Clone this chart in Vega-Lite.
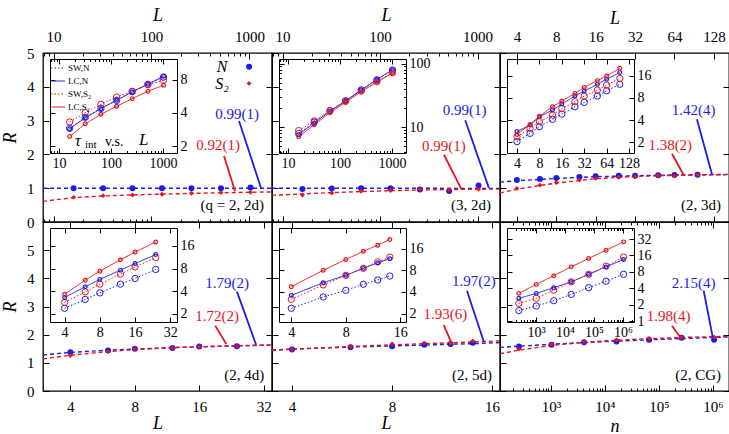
{
"$schema": "https://vega.github.io/schema/vega-lite/v6.json",
"background": "white",
"padding": {"left": 0, "top": 5, "right": 0, "bottom": 0},
"config": {
 "view": {"stroke": "#000", "strokeWidth": 1.3},
 "font": "Liberation Serif, DejaVu Serif, serif",
 "axis": {"grid": false, "domain": false, "tickColor": "#000", "tickWidth": 1, "labelColor": "#000", "labelFont": "Liberation Serif, DejaVu Serif, serif", "labelFontSize": 15, "titleFont": "Liberation Serif, DejaVu Serif, serif", "titleFontSize": 18, "titleFontStyle": "italic", "titleFontWeight": "normal", "titleColor": "#000", "labelFlush": false, "labelOverlap": false, "domainColor": "#000", "domainWidth": 1},
 "axisX": {"labelOverlap": false},
 "axisY": {"labelOverlap": false},
 "text": {"font": "Liberation Serif, DejaVu Serif, serif"},
 "legend": {"labelFont": "Liberation Serif, DejaVu Serif, serif"}
},
"datasets": {
 "pts1": [{"s":"N","L":16,"R":1.0},{"s":"N","L":32,"R":1.0},{"s":"N","L":64,"R":1.0},{"s":"N","L":128,"R":1.0},{"s":"N","L":256,"R":1.0},{"s":"N","L":512,"R":1.0},{"s":"N","L":1024,"R":1.02},
  {"s":"S₂","L":16,"R":0.73},{"s":"S₂","L":32,"R":0.78},{"s":"S₂","L":64,"R":0.8},{"s":"S₂","L":128,"R":0.82},{"s":"S₂","L":256,"R":0.85},{"s":"S₂","L":512,"R":0.87},{"s":"S₂","L":1024,"R":0.88}],
 "fit1": [{"s":"N","L":7.8,"R":1.0},{"s":"N","L":1700,"R":1.0},
  {"s":"S₂","L":7.8,"R":0.61},{"s":"S₂","L":10,"R":0.65},{"s":"S₂","L":16,"R":0.72},{"s":"S₂","L":32,"R":0.77},{"s":"S₂","L":64,"R":0.8},{"s":"S₂","L":128,"R":0.825},{"s":"S₂","L":256,"R":0.845},{"s":"S₂","L":512,"R":0.865},{"s":"S₂","L":1024,"R":0.88},{"s":"S₂","L":1700,"R":0.89}],
 "tau1": [{"s":"SW,N","L":16,"t":2.9},{"s":"SW,N","L":32,"t":3.65},{"s":"SW,N","L":64,"t":4.4},{"s":"SW,N","L":128,"t":5.2},{"s":"SW,N","L":256,"t":6.25},{"s":"SW,N","L":512,"t":7.3},{"s":"SW,N","L":1024,"t":8.5},
  {"s":"LC,N","L":16,"t":2.87},{"s":"LC,N","L":32,"t":3.62},{"s":"LC,N","L":64,"t":4.38},{"s":"LC,N","L":128,"t":5.22},{"s":"LC,N","L":256,"t":6.22},{"s":"LC,N","L":512,"t":7.31},{"s":"LC,N","L":1024,"t":8.65},
  {"s":"SW,S₂","L":16,"t":3.31},{"s":"SW,S₂","L":32,"t":4.03},{"s":"SW,S₂","L":64,"t":4.8},{"s":"SW,S₂","L":128,"t":5.6},{"s":"SW,S₂","L":256,"t":6.31},{"s":"SW,S₂","L":512,"t":7.25},{"s":"SW,S₂","L":1024,"t":7.96},
  {"s":"LC,S₂","L":16,"t":2.45},{"s":"LC,S₂","L":32,"t":3.19},{"s":"LC,S₂","L":64,"t":3.89},{"s":"LC,S₂","L":128,"t":4.6},{"s":"LC,S₂","L":256,"t":5.4},{"s":"LC,S₂","L":512,"t":6.31},{"s":"LC,S₂","L":1024,"t":7.16}],
 "pts2": [{"s":"N","L":16,"R":0.98},{"s":"N","L":32,"R":0.99},{"s":"N","L":64,"R":1.0},{"s":"N","L":128,"R":1.0},{"s":"N","L":256,"R":0.96},{"s":"N","L":512,"R":0.92},{"s":"N","L":1024,"R":1.08},
  {"s":"S₂","L":16,"R":0.8},{"s":"S₂","L":32,"R":0.86},{"s":"S₂","L":64,"R":0.91},{"s":"S₂","L":128,"R":0.93},{"s":"S₂","L":256,"R":0.96},{"s":"S₂","L":512,"R":0.96},{"s":"S₂","L":1024,"R":0.97}],
 "fit2": [{"s":"N","L":7.8,"R":1.0},{"s":"N","L":1700,"R":0.995},
  {"s":"S₂","L":7.8,"R":0.79},{"s":"S₂","L":16,"R":0.83},{"s":"S₂","L":32,"R":0.87},{"s":"S₂","L":64,"R":0.9},{"s":"S₂","L":128,"R":0.925},{"s":"S₂","L":256,"R":0.945},{"s":"S₂","L":512,"R":0.96},{"s":"S₂","L":1024,"R":0.97},{"s":"S₂","L":1700,"R":0.975}],
 "tau2": [{"s":"SW,N","L":16,"t":7.9},{"s":"SW,N","L":32,"t":11.9},{"s":"SW,N","L":64,"t":18},{"s":"SW,N","L":128,"t":26},{"s":"SW,N","L":256,"t":38.5},{"s":"SW,N","L":512,"t":55.5},{"s":"SW,N","L":1024,"t":79},
  {"s":"LC,N","L":16,"t":7.6},{"s":"LC,N","L":32,"t":11.6},{"s":"LC,N","L":64,"t":17.8},{"s":"LC,N","L":128,"t":25.8},{"s":"LC,N","L":256,"t":38.5},{"s":"LC,N","L":512,"t":56},{"s":"LC,N","L":1024,"t":80},
  {"s":"SW,S₂","L":16,"t":8.8},{"s":"SW,S₂","L":32,"t":12.5},{"s":"SW,S₂","L":64,"t":18.2},{"s":"SW,S₂","L":128,"t":25.5},{"s":"SW,S₂","L":256,"t":37},{"s":"SW,S₂","L":512,"t":52},{"s":"SW,S₂","L":1024,"t":72},
  {"s":"LC,S₂","L":16,"t":7},{"s":"LC,S₂","L":32,"t":10.9},{"s":"LC,S₂","L":64,"t":16.8},{"s":"LC,S₂","L":128,"t":24.5},{"s":"LC,S₂","L":256,"t":36},{"s":"LC,S₂","L":512,"t":51},{"s":"LC,S₂","L":1024,"t":71}],
 "pts3": [{"s":"N","L":4,"R":1.24},{"s":"N","L":6,"R":1.27},{"s":"N","L":8,"R":1.3},{"s":"N","L":12,"R":1.33},{"s":"N","L":16,"R":1.35},{"s":"N","L":24,"R":1.37},{"s":"N","L":32,"R":1.37},{"s":"N","L":48,"R":1.38},{"s":"N","L":64,"R":1.39},{"s":"N","L":96,"R":1.4},
  {"s":"S₂","L":4,"R":0.99},{"s":"S₂","L":6,"R":1.09},{"s":"S₂","L":8,"R":1.17},{"s":"S₂","L":12,"R":1.24},{"s":"S₂","L":16,"R":1.29},{"s":"S₂","L":24,"R":1.32},{"s":"S₂","L":32,"R":1.34},{"s":"S₂","L":48,"R":1.37},{"s":"S₂","L":64,"R":1.37},{"s":"S₂","L":96,"R":1.39}],
 "fit3": [{"s":"N","L":2.97,"R":1.18},{"s":"N","L":4,"R":1.22},{"s":"N","L":8,"R":1.29},{"s":"N","L":16,"R":1.34},{"s":"N","L":32,"R":1.37},{"s":"N","L":64,"R":1.39},{"s":"N","L":167,"R":1.41},
  {"s":"S₂","L":2.97,"R":0.86},{"s":"S₂","L":4,"R":0.97},{"s":"S₂","L":6,"R":1.08},{"s":"S₂","L":8,"R":1.15},{"s":"S₂","L":12,"R":1.23},{"s":"S₂","L":16,"R":1.28},{"s":"S₂","L":24,"R":1.32},{"s":"S₂","L":32,"R":1.35},{"s":"S₂","L":64,"R":1.38},{"s":"S₂","L":167,"R":1.4}],
 "tau3": [{"s":"SW,N","L":4,"t":2.04},{"s":"SW,N","L":6,"t":2.64},{"s":"SW,N","L":8,"t":3.25},{"s":"SW,N","L":12,"t":4.09},{"s":"SW,N","L":16,"t":4.82},{"s":"SW,N","L":24,"t":6.06},{"s":"SW,N","L":32,"t":6.94},{"s":"SW,N","L":48,"t":8.46},{"s":"SW,N","L":64,"t":10},{"s":"SW,N","L":96,"t":12.2},
  {"s":"LC,N","L":4,"t":2.8},{"s":"LC,N","L":6,"t":3.42},{"s":"LC,N","L":8,"t":4.44},{"s":"LC,N","L":12,"t":5.46},{"s":"LC,N","L":16,"t":6.6},{"s":"LC,N","L":24,"t":8.46},{"s":"LC,N","L":32,"t":9.9},{"s":"LC,N","L":48,"t":12.2},{"s":"LC,N","L":64,"t":14.3},{"s":"LC,N","L":96,"t":17.6},
  {"s":"SW,S₂","L":4,"t":2.37},{"s":"SW,S₂","L":6,"t":3.09},{"s":"SW,S₂","L":8,"t":3.8},{"s":"SW,S₂","L":12,"t":4.67},{"s":"SW,S₂","L":16,"t":5.72},{"s":"SW,S₂","L":24,"t":7.1},{"s":"SW,S₂","L":32,"t":8.46},{"s":"SW,S₂","L":48,"t":10.2},{"s":"SW,S₂","L":64,"t":11.9},{"s":"SW,S₂","L":96,"t":14.7},
  {"s":"LC,S₂","L":4,"t":2.55},{"s":"LC,S₂","L":6,"t":3.49},{"s":"LC,S₂","L":8,"t":4.5},{"s":"LC,S₂","L":12,"t":6.06},{"s":"LC,S₂","L":16,"t":7.23},{"s":"LC,S₂","L":24,"t":9.2},{"s":"LC,S₂","L":32,"t":11.1},{"s":"LC,S₂","L":48,"t":13.7},{"s":"LC,S₂","L":64,"t":15.8},{"s":"LC,S₂","L":96,"t":20.1}],
 "pts4": [{"s":"N","L":4,"R":1.38},{"s":"N","L":6,"R":1.44},{"s":"N","L":8,"R":1.5},{"s":"N","L":12,"R":1.53},{"s":"N","L":16,"R":1.58},{"s":"N","L":24,"R":1.59},
  {"s":"S₂","L":4,"R":1.26},{"s":"S₂","L":6,"R":1.4},{"s":"S₂","L":8,"R":1.5},{"s":"S₂","L":12,"R":1.53},{"s":"S₂","L":16,"R":1.58},{"s":"S₂","L":24,"R":1.59}],
 "fit4": [{"s":"N","L":2.98,"R":1.28},{"s":"N","L":4,"R":1.37},{"s":"N","L":6,"R":1.45},{"s":"N","L":8,"R":1.49},{"s":"N","L":12,"R":1.54},{"s":"N","L":16,"R":1.57},{"s":"N","L":24,"R":1.6},{"s":"N","L":35,"R":1.63},
  {"s":"S₂","L":2.98,"R":1.14},{"s":"S₂","L":4,"R":1.27},{"s":"S₂","L":6,"R":1.4},{"s":"S₂","L":8,"R":1.47},{"s":"S₂","L":12,"R":1.54},{"s":"S₂","L":16,"R":1.57},{"s":"S₂","L":24,"R":1.61},{"s":"S₂","L":35,"R":1.64}],
 "tau4": [{"s":"SW,N","L":4,"t":2.36},{"s":"SW,N","L":6,"t":3.1},{"s":"SW,N","L":8,"t":3.79},{"s":"SW,N","L":12,"t":4.96},{"s":"SW,N","L":16,"t":5.9},{"s":"SW,N","L":24,"t":7.78},
  {"s":"LC,N","L":4,"t":3.29},{"s":"LC,N","L":6,"t":4.57},{"s":"LC,N","L":8,"t":5.74},{"s":"LC,N","L":12,"t":7.62},{"s":"LC,N","L":16,"t":9.34},{"s":"LC,N","L":24,"t":12.3},
  {"s":"SW,S₂","L":4,"t":2.83},{"s":"SW,S₂","L":6,"t":3.91},{"s":"SW,S₂","L":8,"t":4.96},{"s":"SW,S₂","L":12,"t":6.74},{"s":"SW,S₂","L":16,"t":8.42},{"s":"SW,S₂","L":24,"t":11.2},
  {"s":"LC,S₂","L":4,"t":3.64},{"s":"LC,S₂","L":6,"t":5.6},{"s":"LC,S₂","L":8,"t":7.37},{"s":"LC,S₂","L":12,"t":10.5},{"s":"LC,S₂","L":16,"t":13.3},{"s":"LC,S₂","L":24,"t":18.1}],
 "pts5": [{"s":"N","L":4,"R":1.47},{"s":"N","L":6,"R":1.55},{"s":"N","L":8,"R":1.59},{"s":"N","L":10,"R":1.64},{"s":"N","L":12,"R":1.67},{"s":"N","L":14,"R":1.71},
  {"s":"S₂","L":4,"R":1.47},{"s":"S₂","L":6,"R":1.58},{"s":"S₂","L":8,"R":1.67},{"s":"S₂","L":10,"R":1.7},{"s":"S₂","L":12,"R":1.7},{"s":"S₂","L":14,"R":1.77}],
 "fit5": [{"s":"N","L":3.48,"R":1.46},{"s":"N","L":4,"R":1.49},{"s":"N","L":6,"R":1.56},{"s":"N","L":8,"R":1.6},{"s":"N","L":10,"R":1.63},{"s":"N","L":12,"R":1.66},{"s":"N","L":14,"R":1.68},{"s":"N","L":16.9,"R":1.72},
  {"s":"S₂","L":3.48,"R":1.44},{"s":"S₂","L":4,"R":1.48},{"s":"S₂","L":6,"R":1.58},{"s":"S₂","L":8,"R":1.64},{"s":"S₂","L":10,"R":1.68},{"s":"S₂","L":12,"R":1.71},{"s":"S₂","L":14,"R":1.74},{"s":"S₂","L":16.9,"R":1.78}],
 "tau5": [{"s":"SW,N","L":4,"t":2.37},{"s":"SW,N","L":6,"t":3.41},{"s":"SW,N","L":8,"t":4.22},{"s":"SW,N","L":10,"t":5.12},{"s":"SW,N","L":12,"t":5.87},{"s":"SW,N","L":14,"t":6.66},
  {"s":"LC,N","L":4,"t":3.59},{"s":"LC,N","L":6,"t":5.38},{"s":"LC,N","L":8,"t":6.82},{"s":"LC,N","L":10,"t":8.52},{"s":"LC,N","L":12,"t":10.2},{"s":"LC,N","L":14,"t":11.6},
  {"s":"SW,S₂","L":4,"t":3.16},{"s":"SW,S₂","L":6,"t":5.01},{"s":"SW,S₂","L":8,"t":6.82},{"s":"SW,S₂","L":10,"t":8.52},{"s":"SW,S₂","L":12,"t":10.5},{"s":"SW,S₂","L":14,"t":12.2},
  {"s":"LC,S₂","L":4,"t":4.74},{"s":"LC,S₂","L":6,"t":8},{"s":"LC,S₂","L":8,"t":11.3},{"s":"LC,S₂","L":10,"t":14.7},{"s":"LC,S₂","L":12,"t":17.9},{"s":"LC,S₂","L":14,"t":21.5}],
 "pts6": [{"s":"N","n":256,"R":1.58},{"s":"N","n":1024,"R":1.64},{"s":"N","n":4096,"R":1.73},{"s":"N","n":16384,"R":1.76},{"s":"N","n":65536,"R":1.82},{"s":"N","n":262144,"R":1.89},{"s":"N","n":1048576,"R":1.82},
  {"s":"S₂","n":256,"R":1.49},{"s":"S₂","n":1024,"R":1.65},{"s":"S₂","n":4096,"R":1.75},{"s":"S₂","n":16384,"R":1.81},{"s":"S₂","n":65536,"R":1.87},{"s":"S₂","n":262144,"R":1.9},{"s":"S₂","n":1048576,"R":1.92}],
 "fit6": [{"s":"N","n":114,"R":1.55},{"s":"N","n":256,"R":1.59},{"s":"N","n":1024,"R":1.66},{"s":"N","n":4096,"R":1.72},{"s":"N","n":16384,"R":1.77},{"s":"N","n":65536,"R":1.82},{"s":"N","n":262144,"R":1.86},{"s":"N","n":1048576,"R":1.9},{"s":"N","n":1980000,"R":1.92},
  {"s":"S₂","n":114,"R":1.32},{"s":"S₂","n":256,"R":1.45},{"s":"S₂","n":1024,"R":1.62},{"s":"S₂","n":4096,"R":1.73},{"s":"S₂","n":16384,"R":1.8},{"s":"S₂","n":65536,"R":1.86},{"s":"S₂","n":262144,"R":1.9},{"s":"S₂","n":1048576,"R":1.93},{"s":"S₂","n":1980000,"R":1.94}],
 "tau6": [{"s":"SW,N","n":256,"t":1.57},{"s":"SW,N","n":1024,"t":1.9},{"s":"SW,N","n":4096,"t":2.38},{"s":"SW,N","n":16384,"t":3.1},{"s":"SW,N","n":65536,"t":4.12},{"s":"SW,N","n":262144,"t":5.41},{"s":"SW,N","n":1048576,"t":7.23},
  {"s":"LC,N","n":256,"t":2.63},{"s":"LC,N","n":1024,"t":3.24},{"s":"LC,N","n":4096,"t":4.12},{"s":"LC,N","n":16384,"t":5.27},{"s":"LC,N","n":65536,"t":7.23},{"s":"LC,N","n":262144,"t":9.9},{"s":"LC,N","n":1048576,"t":13.5},
  {"s":"SW,S₂","n":256,"t":2.13},{"s":"SW,S₂","n":1024,"t":2.63},{"s":"SW,S₂","n":4096,"t":3.72},{"s":"SW,S₂","n":16384,"t":5.27},{"s":"SW,S₂","n":65536,"t":7.23},{"s":"SW,S₂","n":262144,"t":10.2},{"s":"SW,S₂","n":1048576,"t":15},
  {"s":"LC,S₂","n":256,"t":3.24},{"s":"LC,S₂","n":1024,"t":4.73},{"s":"LC,S₂","n":4096,"t":6.83},{"s":"LC,S₂","n":16384,"t":9.9},{"s":"LC,S₂","n":65536,"t":14.1},{"s":"LC,S₂","n":262144,"t":20},{"s":"LC,S₂","n":1048576,"t":28.4}]
},
"columns": 3,
"spacing": 0,
"bounds": "flush",
"concat": [
{
 "width": 229, "height": 169,
 "resolve": {"scale": {"x": "independent", "y": "independent", "color": "independent", "strokeDash": "independent"}, "axis": {"x": "independent", "y": "independent"}},
 "layer": [
  {"layer": [
   {"data": {"name": "fit1"}, "mark": {"type": "line", "strokeWidth": 1.4, "strokeDash": [4, 3]},
    "encoding": {
     "x": {"field": "L", "type": "quantitative", "scale": {"type": "log", "domain": [7.8, 1700], "nice": false},
       "axis": {"orient": "bottom", "values": [8,9,10,20,30,40,50,60,70,80,90,100,200,300,400,500,600,700,800,900,1000], "labels": false, "title": null, "tickSize": {"condition": {"test": "datum.value == 10 || datum.value == 100 || datum.value == 1000", "value": -6}, "value": -3}}},
     "y": {"field": "R", "type": "quantitative", "scale": {"domain": [0, 5], "nice": false, "zero": false},
       "axis": {"orient": "right", "values": [0,1,2,3,4,5], "labels": false, "title": null, "tickSize": -6}},
     "color": {"field": "s", "type": "nominal", "scale": {"domain": ["N", "S₂"], "range": ["#1c1ce6", "#e8141c"]}, "legend": null}}},
   {"data": {"name": "pts1"}, "transform": [{"filter": "datum.s == 'N'"}], "mark": {"type": "circle", "size": 36, "color": "#1c1ce6", "opacity": 1},
    "encoding": {"x": {"field": "L", "type": "quantitative"}, "y": {"field": "R", "type": "quantitative"}}},
   {"data": {"name": "pts1"}, "transform": [{"filter": "datum.s != 'N'"}], "mark": {"type": "point", "shape": "diamond", "filled": true, "size": 24, "color": "#e8141c", "opacity": 1},
    "encoding": {"x": {"field": "L", "type": "quantitative"}, "y": {"field": "R", "type": "quantitative"}}},
   {"data": {"values": [{}]}, "mark": {"type": "rule", "color": "#1c1ce6", "strokeWidth": 1.8}, "encoding": {"x": {"datum": 783}, "y": {"datum": 2.99}, "x2": {"datum": 1315}, "y2": {"datum": 1.0}}},
   {"data": {"values": [{}]}, "mark": {"type": "rule", "color": "#e8141c", "strokeWidth": 1.8}, "encoding": {"x": {"datum": 550}, "y": {"datum": 1.95}, "x2": {"datum": 713}, "y2": {"datum": 0.91}}},
   {"data": {"values": [{}]}, "mark": {"type": "text", "color": "#1c1ce6", "fontSize": 15, "text": "0.99(1)"}, "encoding": {"x": {"datum": 748}, "y": {"datum": 3.2}}},
   {"data": {"values": [{}]}, "mark": {"type": "text", "color": "#e8141c", "fontSize": 15, "text": "0.92(1)"}, "encoding": {"x": {"datum": 478}, "y": {"datum": 2.28}}},
   {"data": {"values": [{}]}, "mark": {"type": "text", "color": "#000", "fontSize": 15, "align": "right", "text": "(q = 2, 2d)"}, "encoding": {"x": {"datum": 1410}, "y": {"datum": 0.5}}},
   {"data": {"values": [{}]}, "mark": {"type": "text", "color": "#000", "fontSize": 16, "fontStyle": "italic", "text": "N"}, "encoding": {"x": {"datum": 525}, "y": {"datum": 4.59}}},
   {"data": {"values": [{}]}, "mark": {"type": "text", "color": "#000", "fontSize": 16, "fontStyle": "italic", "text": "S₂"}, "encoding": {"x": {"datum": 525}, "y": {"datum": 4.09}}},
   {"data": {"values": [{}]}, "mark": {"type": "circle", "size": 36, "color": "#1c1ce6", "opacity": 1}, "encoding": {"x": {"datum": 991}, "y": {"datum": 4.59}}},
   {"data": {"values": [{}]}, "mark": {"type": "point", "shape": "diamond", "filled": true, "size": 24, "color": "#e8141c", "opacity": 1}, "encoding": {"x": {"datum": 991}, "y": {"datum": 4.1}}},
   {"data": {"values": [{}]}, "mark": {"type": "text", "color": "#000", "fontSize": 16, "fontStyle": "italic", "align": "left", "text": "τ"}, "encoding": {"x": {"datum": 16.6}, "y": {"datum": 2.39}}},
   {"data": {"values": [{}]}, "mark": {"type": "text", "color": "#000", "fontSize": 11, "align": "left", "text": "int"}, "encoding": {"x": {"datum": 20.9}, "y": {"datum": 2.28}}},
   {"data": {"values": [{}]}, "mark": {"type": "text", "color": "#000", "fontSize": 14, "align": "left", "text": "v.s."}, "encoding": {"x": {"datum": 33.5}, "y": {"datum": 2.38}}},
   {"data": {"values": [{}]}, "mark": {"type": "text", "color": "#000", "fontSize": 17, "fontStyle": "italic", "align": "left", "text": "L"}, "encoding": {"x": {"datum": 74.6}, "y": {"datum": 2.44}}}
  ]},
  {"data": {"name": "pts1"}, "mark": {"type": "point", "opacity": 0},
   "encoding": {
    "x": {"field": "L", "type": "quantitative", "scale": {"type": "log", "domain": [7.8, 1700], "nice": false},
      "axis": {"orient": "top", "values": [8,9,10,20,30,40,50,60,70,80,90,100,200,300,400,500,600,700,800,900,1000], "format": "d", "labelExpr": "(datum.value == 10 || datum.value == 100 || datum.value == 1000) ? datum.label : ''", "labelPadding": 15, "labelOverlap": false, "title": "L", "titlePadding": 2, "tickSize": {"condition": {"test": "datum.value == 10 || datum.value == 100 || datum.value == 1000", "value": -6}, "value": -3}}},
    "y": {"field": "R", "type": "quantitative", "scale": {"domain": [0, 5], "nice": false, "zero": false},
      "axis": {"orient": "left", "values": [0,1,2,3,4,5], "format": "d", "title": "R", "labelPadding": 15, "labelOverlap": false, "tickSize": -6, "titlePadding": 7}}}},
  {"data": {"name": "tau1"},
   "encoding": {
    "x": {"field": "L", "type": "quantitative", "scale": {"type": "log", "domain": [6.7, 1860], "range": [7, 134], "nice": false},
      "axis": {"orient": "bottom", "offset": -69, "values": [7,8,9,10,20,30,40,50,60,70,80,90,100,200,300,400,500,600,700,800,900,1000], "format": "d", "labelExpr": "(datum.value == 10 || datum.value == 100 || datum.value == 1000) ? datum.label : ''", "labelPadding": 8, "labelFontSize": 14, "labelOverlap": false, "domain": true, "title": null, "tickSize": {"condition": {"test": "datum.value == 10 || datum.value == 100 || datum.value == 1000", "value": -5}, "value": -2.5}}},
    "y": {"field": "t", "type": "quantitative", "scale": {"type": "log", "base": 2, "domain": [1.73, 12.4], "range": [100, 6], "nice": false},
      "axis": {"orient": "right", "offset": -95, "values": [2,4,8], "format": "d", "labelPadding": 8, "labelFontSize": 14, "labelOverlap": false, "domain": true, "title": null, "tickSize": -5}},
    "color": {"field": "s", "type": "nominal", "scale": {"domain": ["SW,N","LC,N","SW,S₂","LC,S₂"], "range": ["#1c1ce6","#1c1ce6","#e8141c","#e8141c"]},
      "legend": {"orient": "none", "legendX": 7, "legendY": 7, "title": null, "symbolType": "stroke", "symbolSize": 200, "symbolStrokeWidth": 1, "labelFontSize": 9, "labelOffset": 2, "rowPadding": 0, "padding": 0, "labelColor": "#000"}}},
   "layer": [
    {"mark": {"type": "line", "strokeWidth": 1},
     "encoding": {"strokeDash": {"field": "s", "type": "nominal", "scale": {"domain": ["SW,N","LC,N","SW,S₂","LC,S₂"], "range": [[1.5,2],[1,0],[1.5,2],[1,0]]},
      "legend": {"orient": "none", "legendX": 7, "legendY": 7, "title": null, "symbolType": "stroke", "symbolSize": 200, "symbolStrokeWidth": 1, "labelFontSize": 9, "labelOffset": 2, "rowPadding": 0, "padding": 0, "labelColor": "#000"}}}},
    {"transform": [{"filter": "indexof(datum.s, 'SW') == 0"}], "mark": {"type": "point", "size": 40, "strokeWidth": 1, "opacity": 1}},
    {"transform": [{"filter": "indexof(datum.s, 'LC') == 0"}], "mark": {"type": "point", "size": 14, "strokeWidth": 1.2, "opacity": 1}}
   ]},
  {"data": {"name": "tau1"}, "mark": {"type": "point", "opacity": 0},
   "encoding": {
    "x": {"field": "L", "type": "quantitative", "scale": {"type": "log", "domain": [6.7, 1860], "range": [7, 134], "nice": false},
      "axis": {"orient": "top", "offset": -6, "values": [7,8,9,10,20,30,40,50,60,70,80,90,100,200,300,400,500,600,700,800,900,1000], "labels": false, "domain": true, "title": null, "tickSize": {"condition": {"test": "datum.value == 10 || datum.value == 100 || datum.value == 1000", "value": -5}, "value": -2.5}}},
    "y": {"field": "t", "type": "quantitative", "scale": {"type": "log", "base": 2, "domain": [1.73, 12.4], "range": [100, 6], "nice": false},
      "axis": {"orient": "left", "offset": -7, "values": [2,4,8], "labels": false, "domain": true, "title": null, "tickSize": -5}}}}
 ]
},
{
 "width": 228, "height": 169,
 "resolve": {"scale": {"x": "independent", "y": "independent", "color": "independent", "strokeDash": "independent"}, "axis": {"x": "independent", "y": "independent"}},
 "layer": [
  {"layer": [
   {"data": {"name": "fit2"}, "mark": {"type": "line", "strokeWidth": 1.4, "strokeDash": [4, 3]},
    "encoding": {
     "x": {"field": "L", "type": "quantitative", "scale": {"type": "log", "domain": [7.8, 1700], "nice": false},
       "axis": {"orient": "bottom", "values": [8,9,10,20,30,40,50,60,70,80,90,100,200,300,400,500,600,700,800,900,1000], "labels": false, "title": null, "tickSize": {"condition": {"test": "datum.value == 10 || datum.value == 100 || datum.value == 1000", "value": -6}, "value": -3}}},
     "y": {"field": "R", "type": "quantitative", "scale": {"domain": [0, 5], "nice": false, "zero": false},
       "axis": {"orient": "right", "values": [0,1,2,3,4,5], "labels": false, "title": null, "tickSize": -6}},
     "color": {"field": "s", "type": "nominal", "scale": {"domain": ["N", "S₂"], "range": ["#1c1ce6", "#e8141c"]}, "legend": null}}},
   {"data": {"name": "pts2"}, "transform": [{"filter": "datum.s == 'N'"}], "mark": {"type": "circle", "size": 36, "color": "#1c1ce6", "opacity": 1},
    "encoding": {"x": {"field": "L", "type": "quantitative"}, "y": {"field": "R", "type": "quantitative"}}},
   {"data": {"name": "pts2"}, "transform": [{"filter": "datum.s != 'N'"}], "mark": {"type": "point", "shape": "diamond", "filled": true, "size": 24, "color": "#e8141c", "opacity": 1},
    "encoding": {"x": {"field": "L", "type": "quantitative"}, "y": {"field": "R", "type": "quantitative"}}},
   {"data": {"values": [{}]}, "mark": {"type": "rule", "color": "#1c1ce6", "strokeWidth": 1.8}, "encoding": {"x": {"datum": 748}, "y": {"datum": 3.01}, "x2": {"datum": 1306}, "y2": {"datum": 1.01}}},
   {"data": {"values": [{}]}, "mark": {"type": "rule", "color": "#e8141c", "strokeWidth": 1.8}, "encoding": {"x": {"datum": 453}, "y": {"datum": 1.99}, "x2": {"datum": 681}, "y2": {"datum": 0.98}}},
   {"data": {"values": [{}]}, "mark": {"type": "text", "color": "#1c1ce6", "fontSize": 15, "text": "0.99(1)"}, "encoding": {"x": {"datum": 736}, "y": {"datum": 3.31}}},
   {"data": {"values": [{}]}, "mark": {"type": "text", "color": "#e8141c", "fontSize": 15, "text": "0.99(1)"}, "encoding": {"x": {"datum": 453}, "y": {"datum": 2.25}}},
   {"data": {"values": [{}]}, "mark": {"type": "text", "color": "#000", "fontSize": 15, "align": "right", "text": "(3, 2d)"}, "encoding": {"x": {"datum": 1378}, "y": {"datum": 0.5}}}
  ]},
  {"data": {"name": "pts2"}, "mark": {"type": "point", "opacity": 0},
   "encoding": {
    "x": {"field": "L", "type": "quantitative", "scale": {"type": "log", "domain": [7.8, 1700], "nice": false},
      "axis": {"orient": "top", "values": [8,9,10,20,30,40,50,60,70,80,90,100,200,300,400,500,600,700,800,900,1000], "format": "d", "labelExpr": "(datum.value == 10 || datum.value == 100 || datum.value == 1000) ? datum.label : ''", "labelPadding": 15, "labelOverlap": false, "title": "L", "titlePadding": 2, "tickSize": {"condition": {"test": "datum.value == 10 || datum.value == 100 || datum.value == 1000", "value": -6}, "value": -3}}},
    "y": {"field": "R", "type": "quantitative", "scale": {"domain": [0, 5], "nice": false, "zero": false},
      "axis": {"orient": "left", "values": [0,1,2,3,4,5], "labels": false, "tickSize": -6, "title": null}}}},
  {"data": {"name": "tau2"},
   "encoding": {
    "x": {"field": "L", "type": "quantitative", "scale": {"type": "log", "domain": [6.7, 1860], "range": [7, 134], "nice": false},
      "axis": {"orient": "bottom", "offset": -69, "values": [7,8,9,10,20,30,40,50,60,70,80,90,100,200,300,400,500,600,700,800,900,1000], "format": "d", "labelExpr": "(datum.value == 10 || datum.value == 100 || datum.value == 1000) ? datum.label : ''", "labelPadding": 8, "labelFontSize": 14, "labelOverlap": false, "domain": true, "title": null, "tickSize": {"condition": {"test": "datum.value == 10 || datum.value == 100 || datum.value == 1000", "value": -5}, "value": -2.5}}},
    "y": {"field": "t", "type": "quantitative", "scale": {"type": "log", "domain": [3.9, 118], "range": [100, 6], "nice": false},
      "axis": {"orient": "right", "offset": -94, "values": [4,5,6,7,8,9,10,20,30,40,50,60,70,80,90,100], "format": "d", "labelExpr": "(datum.value == 10 || datum.value == 100) ? datum.label : ''", "labelPadding": 8, "labelFontSize": 14, "labelOverlap": false, "domain": true, "title": null, "tickSize": {"condition": {"test": "datum.value == 10 || datum.value == 100", "value": -5}, "value": -2.5}}},
    "color": {"field": "s", "type": "nominal", "scale": {"domain": ["SW,N","LC,N","SW,S₂","LC,S₂"], "range": ["#1c1ce6","#1c1ce6","#e8141c","#e8141c"]}, "legend": null}},
   "layer": [
    {"mark": {"type": "line", "strokeWidth": 1},
     "encoding": {"strokeDash": {"field": "s", "type": "nominal", "scale": {"domain": ["SW,N","LC,N","SW,S₂","LC,S₂"], "range": [[1.5,2],[1,0],[1.5,2],[1,0]]}, "legend": null}}},
    {"transform": [{"filter": "indexof(datum.s, 'SW') == 0"}], "mark": {"type": "point", "size": 40, "strokeWidth": 1, "opacity": 1}},
    {"transform": [{"filter": "indexof(datum.s, 'LC') == 0"}], "mark": {"type": "point", "size": 14, "strokeWidth": 1.2, "opacity": 1}}
   ]},
  {"data": {"name": "tau2"}, "mark": {"type": "point", "opacity": 0},
   "encoding": {
    "x": {"field": "L", "type": "quantitative", "scale": {"type": "log", "domain": [6.7, 1860], "range": [7, 134], "nice": false},
      "axis": {"orient": "top", "offset": -6, "values": [7,8,9,10,20,30,40,50,60,70,80,90,100,200,300,400,500,600,700,800,900,1000], "labels": false, "domain": true, "title": null, "tickSize": {"condition": {"test": "datum.value == 10 || datum.value == 100 || datum.value == 1000", "value": -5}, "value": -2.5}}},
    "y": {"field": "t", "type": "quantitative", "scale": {"type": "log", "domain": [3.9, 118], "range": [100, 6], "nice": false},
      "axis": {"orient": "left", "offset": -7, "values": [4,5,6,7,8,9,10,20,30,40,50,60,70,80,90,100], "labels": false, "domain": true, "title": null, "tickSize": {"condition": {"test": "datum.value == 10 || datum.value == 100", "value": -5}, "value": -2.5}}}}}
 ]
},
{
 "width": 229, "height": 169,
 "resolve": {"scale": {"x": "independent", "y": "independent", "color": "independent", "strokeDash": "independent"}, "axis": {"x": "independent", "y": "independent"}},
 "layer": [
  {"layer": [
   {"data": {"name": "fit3"}, "mark": {"type": "line", "strokeWidth": 1.4, "strokeDash": [4, 3]},
    "encoding": {
     "x": {"field": "L", "type": "quantitative", "scale": {"type": "log", "base": 2, "domain": [2.97, 167], "nice": false},
       "axis": {"orient": "bottom", "values": [4,8,16,32,64,128], "labels": false, "title": null, "tickSize": -6}},
     "y": {"field": "R", "type": "quantitative", "scale": {"domain": [0, 5], "nice": false, "zero": false},
       "axis": {"orient": "right", "values": [0,1,2,3,4,5], "labels": false, "title": null, "tickSize": -6}},
     "color": {"field": "s", "type": "nominal", "scale": {"domain": ["N", "S₂"], "range": ["#1c1ce6", "#e8141c"]}, "legend": null}}},
   {"data": {"name": "pts3"}, "transform": [{"filter": "datum.s == 'N'"}], "mark": {"type": "circle", "size": 36, "color": "#1c1ce6", "opacity": 1},
    "encoding": {"x": {"field": "L", "type": "quantitative"}, "y": {"field": "R", "type": "quantitative"}}},
   {"data": {"name": "pts3"}, "transform": [{"filter": "datum.s != 'N'"}], "mark": {"type": "point", "shape": "diamond", "filled": true, "size": 24, "color": "#e8141c", "opacity": 1},
    "encoding": {"x": {"field": "L", "type": "quantitative"}, "y": {"field": "R", "type": "quantitative"}}},
   {"data": {"values": [{}]}, "mark": {"type": "rule", "color": "#1c1ce6", "strokeWidth": 1.8}, "encoding": {"x": {"datum": 95}, "y": {"datum": 3.04}, "x2": {"datum": 123.6}, "y2": {"datum": 1.42}}},
   {"data": {"values": [{}]}, "mark": {"type": "rule", "color": "#e8141c", "strokeWidth": 1.8}, "encoding": {"x": {"datum": 61.2}, "y": {"datum": 2.02}, "x2": {"datum": 75.2}, "y2": {"datum": 1.39}}},
   {"data": {"values": [{}]}, "mark": {"type": "text", "color": "#1c1ce6", "fontSize": 15, "text": "1.42(4)"}, "encoding": {"x": {"datum": 89.6}, "y": {"datum": 3.31}}},
   {"data": {"values": [{}]}, "mark": {"type": "text", "color": "#e8141c", "fontSize": 15, "text": "1.38(2)"}, "encoding": {"x": {"datum": 59.4}, "y": {"datum": 2.27}}},
   {"data": {"values": [{}]}, "mark": {"type": "text", "color": "#000", "fontSize": 15, "align": "right", "text": "(2, 3d)"}, "encoding": {"x": {"datum": 145}, "y": {"datum": 0.5}}}
  ]},
  {"data": {"name": "pts3"}, "mark": {"type": "point", "opacity": 0},
   "encoding": {
    "x": {"field": "L", "type": "quantitative", "scale": {"type": "log", "base": 2, "domain": [2.97, 167], "nice": false},
      "axis": {"orient": "top", "values": [4,8,16,32,64,128], "format": "d", "labelPadding": 15, "labelOverlap": false, "title": "L", "titlePadding": 2, "tickSize": -6}},
    "y": {"field": "R", "type": "quantitative", "scale": {"domain": [0, 5], "nice": false, "zero": false},
      "axis": {"orient": "left", "values": [0,1,2,3,4,5], "labels": false, "tickSize": -6, "title": null}}}},
  {"data": {"name": "tau3"},
   "encoding": {
    "x": {"field": "L", "type": "quantitative", "scale": {"type": "log", "base": 2, "domain": [2.94, 149], "range": [7, 134], "nice": false},
      "axis": {"orient": "bottom", "offset": -69, "values": [4,8,16,32,64,128], "format": "d", "labelPadding": 8, "labelFontSize": 14, "labelOverlap": false, "domain": true, "title": null, "tickSize": -5}},
    "y": {"field": "t", "type": "quantitative", "scale": {"type": "log", "base": 2, "domain": [1.43, 26.9], "range": [100, 6], "nice": false},
      "axis": {"orient": "right", "offset": -95, "values": [2,4,8,16], "format": "d", "labelPadding": 8, "labelFontSize": 14, "labelOverlap": false, "domain": true, "title": null, "tickSize": -5}},
    "color": {"field": "s", "type": "nominal", "scale": {"domain": ["SW,N","LC,N","SW,S₂","LC,S₂"], "range": ["#1c1ce6","#1c1ce6","#e8141c","#e8141c"]}, "legend": null}},
   "layer": [
    {"mark": {"type": "line", "strokeWidth": 1},
     "encoding": {"strokeDash": {"field": "s", "type": "nominal", "scale": {"domain": ["SW,N","LC,N","SW,S₂","LC,S₂"], "range": [[1.5,2],[1,0],[1.5,2],[1,0]]}, "legend": null}}},
    {"transform": [{"filter": "indexof(datum.s, 'SW') == 0"}], "mark": {"type": "point", "size": 40, "strokeWidth": 1, "opacity": 1}},
    {"transform": [{"filter": "indexof(datum.s, 'LC') == 0"}], "mark": {"type": "point", "size": 14, "strokeWidth": 1.2, "opacity": 1}}
   ]},
  {"data": {"name": "tau3"}, "mark": {"type": "point", "opacity": 0},
   "encoding": {
    "x": {"field": "L", "type": "quantitative", "scale": {"type": "log", "base": 2, "domain": [2.94, 149], "range": [7, 134], "nice": false},
      "axis": {"orient": "top", "offset": -6, "values": [4,8,16,32,64,128], "labels": false, "domain": true, "title": null, "tickSize": -5}},
    "y": {"field": "t", "type": "quantitative", "scale": {"type": "log", "base": 2, "domain": [1.43, 26.9], "range": [100, 6], "nice": false},
      "axis": {"orient": "left", "offset": -7, "values": [2,4,8,16], "labels": false, "domain": true, "title": null, "tickSize": -5}}}}
 ]
},
{
 "width": 229, "height": 169,
 "resolve": {"scale": {"x": "independent", "y": "independent", "color": "independent", "strokeDash": "independent"}, "axis": {"x": "independent", "y": "independent"}},
 "layer": [
  {"layer": [
   {"data": {"name": "fit4"}, "mark": {"type": "line", "strokeWidth": 1.4, "strokeDash": [4, 3]},
    "encoding": {
     "x": {"field": "L", "type": "quantitative", "scale": {"type": "log", "base": 2, "domain": [2.98, 35], "nice": false},
       "axis": {"orient": "bottom", "values": [4,8,16,32], "format": "d", "labelPadding": 14, "labelOverlap": false, "title": "L", "titlePadding": 0, "tickSize": -6}},
     "y": {"field": "R", "type": "quantitative", "scale": {"domain": [0, 6], "nice": false, "zero": false},
       "axis": {"orient": "right", "values": [0,1,2,3,4,5], "labels": false, "title": null, "tickSize": -6}},
     "color": {"field": "s", "type": "nominal", "scale": {"domain": ["N", "S₂"], "range": ["#1c1ce6", "#e8141c"]}, "legend": null}}},
   {"data": {"name": "pts4"}, "transform": [{"filter": "datum.s == 'N'"}], "mark": {"type": "circle", "size": 36, "color": "#1c1ce6", "opacity": 1},
    "encoding": {"x": {"field": "L", "type": "quantitative"}, "y": {"field": "R", "type": "quantitative"}}},
   {"data": {"name": "pts4"}, "transform": [{"filter": "datum.s != 'N'"}], "mark": {"type": "point", "shape": "diamond", "filled": true, "size": 24, "color": "#e8141c", "opacity": 1},
    "encoding": {"x": {"field": "L", "type": "quantitative"}, "y": {"field": "R", "type": "quantitative"}}},
   {"data": {"values": [{}]}, "mark": {"type": "rule", "color": "#1c1ce6", "strokeWidth": 1.8}, "encoding": {"x": {"datum": 24.0}, "y": {"datum": 3.53}, "x2": {"datum": 29.5}, "y2": {"datum": 1.64}}},
   {"data": {"values": [{}]}, "mark": {"type": "rule", "color": "#e8141c", "strokeWidth": 1.8}, "encoding": {"x": {"datum": 19.0}, "y": {"datum": 2.32}, "x2": {"datum": 21.4}, "y2": {"datum": 1.67}}},
   {"data": {"values": [{}]}, "mark": {"type": "text", "color": "#1c1ce6", "fontSize": 15, "text": "1.79(2)"}, "encoding": {"x": {"datum": 21.6}, "y": {"datum": 3.83}}},
   {"data": {"values": [{}]}, "mark": {"type": "text", "color": "#e8141c", "fontSize": 15, "text": "1.72(2)"}, "encoding": {"x": {"datum": 19.4}, "y": {"datum": 2.65}}},
   {"data": {"values": [{}]}, "mark": {"type": "text", "color": "#000", "fontSize": 15, "align": "right", "text": "(2, 4d)"}, "encoding": {"x": {"datum": 32.2}, "y": {"datum": 0.57}}}
  ]},
  {"data": {"name": "pts4"}, "mark": {"type": "point", "opacity": 0},
   "encoding": {
    "x": {"field": "L", "type": "quantitative", "scale": {"type": "log", "base": 2, "domain": [2.98, 35], "nice": false},
      "axis": {"orient": "top", "values": [4,8,16,32], "labels": false, "title": null, "tickSize": -6}},
    "y": {"field": "R", "type": "quantitative", "scale": {"domain": [0, 6], "nice": false, "zero": false},
      "axis": {"orient": "left", "values": [0,1,2,3,4,5], "format": "d", "title": "R", "labelPadding": 15, "labelOverlap": false, "tickSize": -6, "titlePadding": 7}}}},
  {"data": {"name": "tau4"},
   "encoding": {
    "x": {"field": "L", "type": "quantitative", "scale": {"type": "log", "base": 2, "domain": [3, 36.5], "range": [7, 134], "nice": false},
      "axis": {"orient": "bottom", "offset": -69, "values": [4,8,16,32], "format": "d", "labelPadding": 8, "labelFontSize": 14, "labelOverlap": false, "domain": true, "title": null, "tickSize": -5}},
    "y": {"field": "t", "type": "quantitative", "scale": {"type": "log", "base": 2, "domain": [1.55, 27.8], "range": [100, 6], "nice": false},
      "axis": {"orient": "right", "offset": -95, "values": [2,4,8,16], "format": "d", "labelPadding": 8, "labelFontSize": 14, "labelOverlap": false, "domain": true, "title": null, "tickSize": -5}},
    "color": {"field": "s", "type": "nominal", "scale": {"domain": ["SW,N","LC,N","SW,S₂","LC,S₂"], "range": ["#1c1ce6","#1c1ce6","#e8141c","#e8141c"]}, "legend": null}},
   "layer": [
    {"mark": {"type": "line", "strokeWidth": 1},
     "encoding": {"strokeDash": {"field": "s", "type": "nominal", "scale": {"domain": ["SW,N","LC,N","SW,S₂","LC,S₂"], "range": [[1.5,2],[1,0],[1.5,2],[1,0]]}, "legend": null}}},
    {"transform": [{"filter": "indexof(datum.s, 'SW') == 0"}], "mark": {"type": "point", "size": 40, "strokeWidth": 1, "opacity": 1}},
    {"transform": [{"filter": "indexof(datum.s, 'LC') == 0"}], "mark": {"type": "point", "size": 14, "strokeWidth": 1.2, "opacity": 1}}
   ]},
  {"data": {"name": "tau4"}, "mark": {"type": "point", "opacity": 0},
   "encoding": {
    "x": {"field": "L", "type": "quantitative", "scale": {"type": "log", "base": 2, "domain": [3, 36.5], "range": [7, 134], "nice": false},
      "axis": {"orient": "top", "offset": -6, "values": [4,8,16,32], "labels": false, "domain": true, "title": null, "tickSize": -5}},
    "y": {"field": "t", "type": "quantitative", "scale": {"type": "log", "base": 2, "domain": [1.55, 27.8], "range": [100, 6], "nice": false},
      "axis": {"orient": "left", "offset": -7, "values": [2,4,8,16], "labels": false, "domain": true, "title": null, "tickSize": -5}}}}
 ]
},
{
 "width": 228, "height": 169,
 "resolve": {"scale": {"x": "independent", "y": "independent", "color": "independent", "strokeDash": "independent"}, "axis": {"x": "independent", "y": "independent"}},
 "layer": [
  {"layer": [
   {"data": {"name": "fit5"}, "mark": {"type": "line", "strokeWidth": 1.4, "strokeDash": [4, 3]},
    "encoding": {
     "x": {"field": "L", "type": "quantitative", "scale": {"type": "log", "base": 2, "domain": [3.48, 16.9], "nice": false},
       "axis": {"orient": "bottom", "values": [4,8,16], "format": "d", "labelPadding": 14, "labelOverlap": false, "title": "L", "titlePadding": 0, "tickSize": -6}},
     "y": {"field": "R", "type": "quantitative", "scale": {"domain": [0, 6], "nice": false, "zero": false},
       "axis": {"orient": "right", "values": [0,1,2,3,4,5], "labels": false, "title": null, "tickSize": -6}},
     "color": {"field": "s", "type": "nominal", "scale": {"domain": ["N", "S₂"], "range": ["#1c1ce6", "#e8141c"]}, "legend": null}}},
   {"data": {"name": "pts5"}, "transform": [{"filter": "datum.s == 'N'"}], "mark": {"type": "circle", "size": 36, "color": "#1c1ce6", "opacity": 1},
    "encoding": {"x": {"field": "L", "type": "quantitative"}, "y": {"field": "R", "type": "quantitative"}}},
   {"data": {"name": "pts5"}, "transform": [{"filter": "datum.s != 'N'"}], "mark": {"type": "point", "shape": "diamond", "filled": true, "size": 24, "color": "#e8141c", "opacity": 1},
    "encoding": {"x": {"field": "L", "type": "quantitative"}, "y": {"field": "R", "type": "quantitative"}}},
   {"data": {"values": [{}]}, "mark": {"type": "rule", "color": "#1c1ce6", "strokeWidth": 1.8}, "encoding": {"x": {"datum": 13.44}, "y": {"datum": 3.56}, "x2": {"datum": 15.1}, "y2": {"datum": 1.76}}},
   {"data": {"values": [{}]}, "mark": {"type": "rule", "color": "#e8141c", "strokeWidth": 1.8}, "encoding": {"x": {"datum": 11.44}, "y": {"datum": 2.34}, "x2": {"datum": 12.06}, "y2": {"datum": 1.73}}},
   {"data": {"values": [{}]}, "mark": {"type": "text", "color": "#1c1ce6", "fontSize": 15, "text": "1.97(2)"}, "encoding": {"x": {"datum": 14.1}, "y": {"datum": 3.91}}},
   {"data": {"values": [{}]}, "mark": {"type": "text", "color": "#e8141c", "fontSize": 15, "text": "1.93(6)"}, "encoding": {"x": {"datum": 11.57}, "y": {"datum": 2.73}}},
   {"data": {"values": [{}]}, "mark": {"type": "text", "color": "#000", "fontSize": 15, "align": "right", "text": "(2, 5d)"}, "encoding": {"x": {"datum": 16.0}, "y": {"datum": 0.57}}}
  ]},
  {"data": {"name": "pts5"}, "mark": {"type": "point", "opacity": 0},
   "encoding": {
    "x": {"field": "L", "type": "quantitative", "scale": {"type": "log", "base": 2, "domain": [3.48, 16.9], "nice": false},
      "axis": {"orient": "top", "values": [4,8,16], "labels": false, "title": null, "tickSize": -6}},
    "y": {"field": "R", "type": "quantitative", "scale": {"domain": [0, 6], "nice": false, "zero": false},
      "axis": {"orient": "left", "values": [0,1,2,3,4,5], "labels": false, "tickSize": -6, "title": null}}}},
  {"data": {"name": "tau5"},
   "encoding": {
    "x": {"field": "L", "type": "quantitative", "scale": {"type": "log", "base": 2, "domain": [3.42, 17.2], "range": [7, 134], "nice": false},
      "axis": {"orient": "bottom", "offset": -69, "values": [4,8,16], "format": "d", "labelPadding": 8, "labelFontSize": 14, "labelOverlap": false, "domain": true, "title": null, "tickSize": -5}},
    "y": {"field": "t", "type": "quantitative", "scale": {"type": "log", "base": 2, "domain": [1.53, 31], "range": [100, 6], "nice": false},
      "axis": {"orient": "right", "offset": -94, "values": [2,4,8,16], "format": "d", "labelPadding": 8, "labelFontSize": 14, "labelOverlap": false, "domain": true, "title": null, "tickSize": -5}},
    "color": {"field": "s", "type": "nominal", "scale": {"domain": ["SW,N","LC,N","SW,S₂","LC,S₂"], "range": ["#1c1ce6","#1c1ce6","#e8141c","#e8141c"]}, "legend": null}},
   "layer": [
    {"mark": {"type": "line", "strokeWidth": 1},
     "encoding": {"strokeDash": {"field": "s", "type": "nominal", "scale": {"domain": ["SW,N","LC,N","SW,S₂","LC,S₂"], "range": [[1.5,2],[1,0],[1.5,2],[1,0]]}, "legend": null}}},
    {"transform": [{"filter": "indexof(datum.s, 'SW') == 0"}], "mark": {"type": "point", "size": 40, "strokeWidth": 1, "opacity": 1}},
    {"transform": [{"filter": "indexof(datum.s, 'LC') == 0"}], "mark": {"type": "point", "size": 14, "strokeWidth": 1.2, "opacity": 1}}
   ]},
  {"data": {"name": "tau5"}, "mark": {"type": "point", "opacity": 0},
   "encoding": {
    "x": {"field": "L", "type": "quantitative", "scale": {"type": "log", "base": 2, "domain": [3.42, 17.2], "range": [7, 134], "nice": false},
      "axis": {"orient": "top", "offset": -6, "values": [4,8,16], "labels": false, "domain": true, "title": null, "tickSize": -5}},
    "y": {"field": "t", "type": "quantitative", "scale": {"type": "log", "base": 2, "domain": [1.53, 31], "range": [100, 6], "nice": false},
      "axis": {"orient": "left", "offset": -7, "values": [2,4,8,16], "labels": false, "domain": true, "title": null, "tickSize": -5}}}}
 ]
},
{
 "width": 229, "height": 169,
 "resolve": {"scale": {"x": "independent", "y": "independent", "color": "independent", "strokeDash": "independent"}, "axis": {"x": "independent", "y": "independent"}},
 "layer": [
  {"layer": [
   {"data": {"name": "fit6"}, "mark": {"type": "line", "strokeWidth": 1.4, "strokeDash": [4, 3]},
    "encoding": {
     "x": {"field": "n", "type": "quantitative", "scale": {"type": "log", "domain": [114, 1980000], "nice": false},
       "axis": {"orient": "bottom", "values": [200,300,400,500,600,700,800,900,1000,2000,3000,4000,5000,6000,7000,8000,9000,10000,20000,30000,40000,50000,60000,70000,80000,90000,100000,200000,300000,400000,500000,600000,700000,800000,900000,1000000], "labelExpr": "datum.value == 1000 ? '10³' : datum.value == 10000 ? '10⁴' : datum.value == 100000 ? '10⁵' : datum.value == 1000000 ? '10⁶' : ''", "labelPadding": 14, "labelOverlap": false, "title": "n", "titlePadding": 0, "tickSize": {"condition": {"test": "datum.value == 1000 || datum.value == 10000 || datum.value == 100000 || datum.value == 1000000", "value": -6}, "value": -3}}},
     "y": {"field": "R", "type": "quantitative", "scale": {"domain": [0, 6], "nice": false, "zero": false},
       "axis": {"orient": "right", "values": [0,1,2,3,4,5], "labels": false, "title": null, "tickSize": -6}},
     "color": {"field": "s", "type": "nominal", "scale": {"domain": ["N", "S₂"], "range": ["#1c1ce6", "#e8141c"]}, "legend": null}}},
   {"data": {"name": "pts6"}, "transform": [{"filter": "datum.s == 'N'"}], "mark": {"type": "circle", "size": 36, "color": "#1c1ce6", "opacity": 1},
    "encoding": {"x": {"field": "n", "type": "quantitative"}, "y": {"field": "R", "type": "quantitative"}}},
   {"data": {"name": "pts6"}, "transform": [{"filter": "datum.s != 'N'"}], "mark": {"type": "point", "shape": "diamond", "filled": true, "size": 24, "color": "#e8141c", "opacity": 1},
    "encoding": {"x": {"field": "n", "type": "quantitative"}, "y": {"field": "R", "type": "quantitative"}}},
   {"data": {"values": [{}]}, "mark": {"type": "rule", "color": "#1c1ce6", "strokeWidth": 1.8}, "encoding": {"x": {"datum": 673000}, "y": {"datum": 3.56}, "x2": {"datum": 988000}, "y2": {"datum": 1.91}}},
   {"data": {"values": [{}]}, "mark": {"type": "rule", "color": "#e8141c", "strokeWidth": 1.8}, "encoding": {"x": {"datum": 174000}, "y": {"datum": 2.32}, "x2": {"datum": 248000}, "y2": {"datum": 1.91}}},
   {"data": {"values": [{}]}, "mark": {"type": "text", "color": "#1c1ce6", "fontSize": 15, "text": "2.15(4)"}, "encoding": {"x": {"datum": 440000}, "y": {"datum": 3.85}}},
   {"data": {"values": [{}]}, "mark": {"type": "text", "color": "#e8141c", "fontSize": 15, "text": "1.98(4)"}, "encoding": {"x": {"datum": 151000}, "y": {"datum": 2.68}}},
   {"data": {"values": [{}]}, "mark": {"type": "text", "color": "#000", "fontSize": 15, "align": "right", "text": "(2, CG)"}, "encoding": {"x": {"datum": 1410000}, "y": {"datum": 0.57}}}
  ]},
  {"data": {"name": "pts6"}, "mark": {"type": "point", "opacity": 0},
   "encoding": {
    "x": {"field": "n", "type": "quantitative", "scale": {"type": "log", "domain": [114, 1980000], "nice": false},
      "axis": {"orient": "top", "values": [200,300,400,500,600,700,800,900,1000,2000,3000,4000,5000,6000,7000,8000,9000,10000,20000,30000,40000,50000,60000,70000,80000,90000,100000,200000,300000,400000,500000,600000,700000,800000,900000,1000000], "labels": false, "title": null, "tickSize": {"condition": {"test": "datum.value == 1000 || datum.value == 10000 || datum.value == 100000 || datum.value == 1000000", "value": -6}, "value": -3}}},
    "y": {"field": "R", "type": "quantitative", "scale": {"domain": [0, 6], "nice": false, "zero": false},
      "axis": {"orient": "left", "values": [0,1,2,3,4,5], "labels": false, "tickSize": -6, "title": null}}}},
  {"data": {"name": "tau6"},
   "encoding": {
    "x": {"field": "n", "type": "quantitative", "scale": {"type": "log", "domain": [100, 2400000], "range": [7, 134], "nice": false},
      "axis": {"orient": "bottom", "offset": -69, "values": [200,300,400,500,600,700,800,900,1000,2000,3000,4000,5000,6000,7000,8000,9000,10000,20000,30000,40000,50000,60000,70000,80000,90000,100000,200000,300000,400000,500000,600000,700000,800000,900000,1000000,2000000], "labelExpr": "datum.value == 1000 ? '10³' : datum.value == 10000 ? '10⁴' : datum.value == 100000 ? '10⁵' : datum.value == 1000000 ? '10⁶' : ''", "labelPadding": 8, "labelFontSize": 14, "labelOverlap": false, "domain": true, "title": null, "tickSize": {"condition": {"test": "datum.value == 1000 || datum.value == 10000 || datum.value == 100000 || datum.value == 1000000", "value": -5}, "value": -2.5}}},
    "y": {"field": "t", "type": "quantitative", "scale": {"type": "log", "base": 2, "domain": [0.97, 50.9], "range": [100, 6], "nice": false},
      "axis": {"orient": "right", "offset": -95, "values": [1,2,4,8,16,32], "format": "d", "labelPadding": 8, "labelFontSize": 14, "labelOverlap": false, "domain": true, "title": null, "tickSize": -5}},
    "color": {"field": "s", "type": "nominal", "scale": {"domain": ["SW,N","LC,N","SW,S₂","LC,S₂"], "range": ["#1c1ce6","#1c1ce6","#e8141c","#e8141c"]}, "legend": null}},
   "layer": [
    {"mark": {"type": "line", "strokeWidth": 1},
     "encoding": {"strokeDash": {"field": "s", "type": "nominal", "scale": {"domain": ["SW,N","LC,N","SW,S₂","LC,S₂"], "range": [[1.5,2],[1,0],[1.5,2],[1,0]]}, "legend": null}}},
    {"transform": [{"filter": "indexof(datum.s, 'SW') == 0"}], "mark": {"type": "point", "size": 40, "strokeWidth": 1, "opacity": 1}},
    {"transform": [{"filter": "indexof(datum.s, 'LC') == 0"}], "mark": {"type": "point", "size": 14, "strokeWidth": 1.2, "opacity": 1}}
   ]},
  {"data": {"name": "tau6"}, "mark": {"type": "point", "opacity": 0},
   "encoding": {
    "x": {"field": "n", "type": "quantitative", "scale": {"type": "log", "domain": [100, 2400000], "range": [7, 134], "nice": false},
      "axis": {"orient": "top", "offset": -6, "values": [200,300,400,500,600,700,800,900,1000,2000,3000,4000,5000,6000,7000,8000,9000,10000,20000,30000,40000,50000,60000,70000,80000,90000,100000,200000,300000,400000,500000,600000,700000,800000,900000,1000000,2000000], "labels": false, "domain": true, "title": null, "tickSize": {"condition": {"test": "datum.value == 1000 || datum.value == 10000 || datum.value == 100000 || datum.value == 1000000", "value": -5}, "value": -2.5}}},
    "y": {"field": "t", "type": "quantitative", "scale": {"type": "log", "base": 2, "domain": [0.97, 50.9], "range": [100, 6], "nice": false},
      "axis": {"orient": "left", "offset": -7, "values": [1,2,4,8,16,32], "labels": false, "domain": true, "title": null, "tickSize": -5}}}}
 ]
}
]
}
